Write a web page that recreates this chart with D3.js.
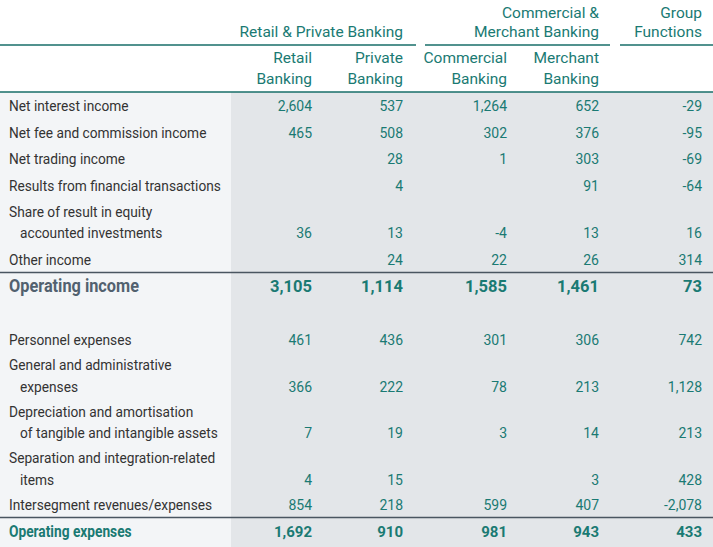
<!DOCTYPE html>
<html><head><meta charset="utf-8">
<script src="https://cdn.jsdelivr.net/npm/d3@7/dist/d3.min.js"></script>
<style>
html,body{margin:0;padding:0;background:#fff;}
svg{display:block;}
</style></head>
<body><div id="chart"></div>
<script>
// ---- data ----
const groupHeaders = [
  {lines:["Retail & Private Banking"], col:1},
  {lines:["Commercial &","Merchant Banking"], col:3},
  {lines:["Group","Functions"], col:4}
];
const subHeaders = [["Retail","Banking"],["Private","Banking"],["Commercial","Banking"],["Merchant","Banking"],[]];
const incomeLabels = [
  ["Net interest income"],
  ["Net fee and commission income"],
  ["Net trading income"],
  ["Results from financial transactions"],
  ["Share of result in equity","accounted investments"],
  ["Other income"],
  ["Operating income"]
];
const expenseLabels = [
  ["Personnel expenses"],
  ["General and administrative","expenses"],
  ["Depreciation and amortisation","of tangible and intangible assets"],
  ["Separation and integration-related","items"],
  ["Intersegment revenues/expenses"],
  ["Operating expenses"]
];
// income rows then expense rows (last of each block is the total)
const retailBanking     = [2604, 465, null, null, 36, null, 3105,   461, 366, 7, 4, 854, 1692];
const privateBanking    = [537, 508, 28, 4, 13, 24, 1114,           436, 222, 19, 15, 218, 910];
const commercialBanking = [1264, 302, 1, null, -4, 22, 1585,        301, 78, 3, null, 599, 981];
const merchantBanking   = [652, 376, 303, 91, 13, 26, 1461,         306, 213, 14, 3, 407, 943];
const groupFunctions    = [-29, -95, -69, -64, 16, 314, 73,         742, 1128, 213, 428, -2078, 433];
const columns = [retailBanking, privateBanking, commercialBanking, merchantBanking, groupFunctions];

// ---- layout ----
const W = 713, H = 547;
const teal = "#1a7a73", tealDark = "#176e68", gray = "#333", slate = "#52616f";
const labelFont = "Roboto,'Liberation Sans',sans-serif";
const numFont = "Roboto,'Liberation Sans',sans-serif";

const svg = d3.select("#chart").append("svg").attr("width", W).attr("height", H);

const colX = d3.scaleOrdinal().domain(d3.range(5)).range([312, 403, 507, 599, 702]);
const numLeft = 231;

svg.append("rect").attr("x",0).attr("y",92).attr("width",numLeft).attr("height",H-92).attr("fill","#f3f5f7");
svg.append("rect").attr("x",numLeft).attr("y",92).attr("width",W-numLeft).attr("height",H-92).attr("fill","#e3e6e9");

// header
const groupSpans = [[0,416],[425,610],[620,713]];
groupHeaders.forEach((g,i)=>{
  const base = g.lines.length===1 ? [37] : [18,37];
  g.lines.forEach((t,j)=>{
    svg.append("text").attr("x", colX(g.col)).attr("y", base[j]).attr("text-anchor","end")
      .attr("font-family", numFont).attr("font-size", 15.5).attr("fill", teal).text(t);
  });
  svg.append("line").attr("x1",groupSpans[i][0]).attr("x2",groupSpans[i][1]).attr("y1",45).attr("y2",45)
    .attr("stroke", tealDark).attr("stroke-width",1.5);
});
subHeaders.forEach((s,i)=>{
  s.forEach((t,j)=>{
    svg.append("text").attr("x", colX(i)).attr("y", [63,84][j]).attr("text-anchor","end")
      .attr("font-family", numFont).attr("font-size", 15.5).attr("fill", teal).text(t);
  });
});
svg.append("line").attr("x1",0).attr("x2",W).attr("y1",92).attr("y2",92).attr("stroke",tealDark).attr("stroke-width",1.5);

// condensed look for labels: horizontal squeeze calibrated on the widest label
const LBL = 15.5;
const probe = svg.append("text").attr("font-family", labelFont).attr("font-size", LBL)
  .text("Results from financial transactions");
const kx = 212 / probe.node().getComputedTextLength();
probe.remove();

const fmt = d3.format(",");
const fmtNum = v => v < 0 ? "-" + fmt(-v) : fmt(v);

function layoutBlock(labels, start, pitch, inner) {
  let y = start; const out = [];
  labels.forEach(l => { out.push(y); y += pitch + (l.length-1)*inner; });
  return out;
}
const incomeBase = layoutBlock(incomeLabels, 111, 26.6, 21);
const expenseBase = layoutBlock(expenseLabels, 345, 25, 21.5);
expenseBase[expenseBase.length-1] += 2;

const allLabels = incomeLabels.concat(expenseLabels);
const allBase = incomeBase.concat(expenseBase);
const totalIdx = {6:"income", 12:"expense"};
function inner(i){ return i < incomeLabels.length ? 21 : 21.5; }

allLabels.forEach((lab,i)=>{
  const type = totalIdx[i] || "n";
  const g = svg.append("g");
  lab.forEach((t,j)=>{
    let fs = LBL, fill = gray, fw = "normal", x = j>0 ? 20 : 9;
    if (type==="income") { fs = 19; fill = slate; fw = "bold"; }
    if (type==="expense") { fs = 16; fill = teal; fw = "bold"; }
    const y = allBase[i] + j*inner(i);
    g.append("text").attr("transform", `translate(${x},${y}) scale(${type==="n"?kx:kx*0.97},1)`)
      .attr("font-family", labelFont).attr("font-size", fs).attr("font-weight", fw)
      .attr("fill", fill).text(t);
  });
  const lastBase = allBase[i] + (lab.length-1)*inner(i);
  columns.forEach((col,c)=>{
    const v = col[i];
    if (v===null || v===undefined) return;
    const bold = type!=="n";
    g.append("text").attr("x", colX(c)).attr("y", lastBase)
      .attr("text-anchor","end").attr("font-family", numFont)
      .attr("font-size", type==="income" ? 16.5 : (bold ? 15 : 14))
      .attr("font-weight", bold ? "bold" : "normal").attr("fill", teal).text(fmtNum(v));
  });
});

// section rules above the totals
[6,12].forEach(i=>{
  const y = Math.round(allBase[i] - 20) + 0.5;
  svg.append("line").attr("x1",0).attr("x2",W).attr("y1",y).attr("y2",y)
    .attr("stroke","#4a5661").attr("stroke-width",1.5);
});
</script>
</body></html>
